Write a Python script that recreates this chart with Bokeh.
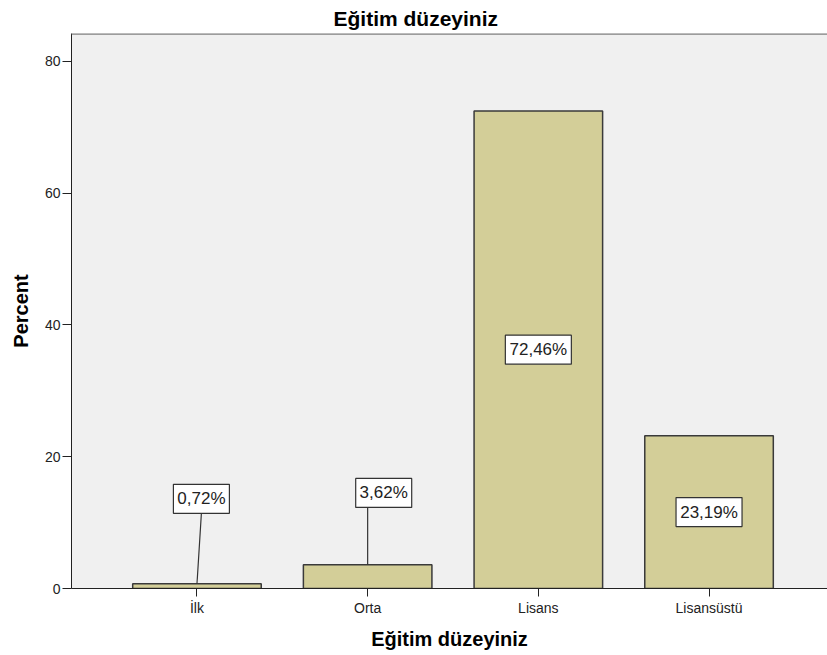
from bokeh.plotting import figure
from bokeh.models import Range1d, FixedTicker, ColumnDataSource, Span
from bokeh.core.properties import value
from bokeh.embed import file_html
from bokeh.resources import INLINE

# ---- data ----
categories = ["İlk", "Orta", "Lisans", "Lisansüstü"]
percents = [0.72, 3.62, 72.46, 23.19]
pct_labels = ["0,72%", "3,62%", "72,46%", "23,19%"]
y_ticks = [0, 20, 40, 60, 80]

title_text = "Eğitim düzeyiniz"
x_title = "Eğitim düzeyiniz"
y_title = "Percent"

# ---- layout constants ----
FONT = "Liberation Sans"
BAR_W = 0.753
Y_MAX = 84.2
xs = list(range(len(categories)))
# label placement: small bars get a callout above, big bars centred inside
callout = {0: (0.026, 13.6), 1: (1.094, 14.5)}
lab_x, lab_y, box_w = [], [], []
seg_x0, seg_y0, seg_x1, seg_y1 = [], [], [], []
BOX_HALF_H = 2.2
for i, v in enumerate(percents):
    if i in callout:
        cx, cy = callout[i]
        lab_x.append(cx)
        lab_y.append(cy)
        seg_x0.append(xs[i] if i == 1 else cx)
        seg_y0.append(cy - BOX_HALF_H)
        seg_x1.append(xs[i])
        seg_y1.append(v)
    else:
        lab_x.append(xs[i])
        lab_y.append(v / 2)
    box_w.append(10 * len(pct_labels[i]) + 6)

p = figure(width=827, height=655,
           x_range=Range1d(-0.735, 3.694), y_range=Range1d(0, Y_MAX),
           output_backend="svg", toolbar_location=None,
           min_border_left=71, min_border_right=0,
           min_border_top=33, min_border_bottom=67)

p.title.text = title_text
p.title.text_font = FONT
p.title.text_font_size = "21px"
p.title.text_font_style = "bold"
p.title.text_color = "#000000"
p.title.align = "left"
p.title.offset = 262
p.title.standoff = 7

p.background_fill_color = "#F0F0F0"
p.border_fill_color = "#FFFFFF"
p.outline_line_color = None
p.xgrid.visible = False
p.ygrid.visible = False

# top frame border (the right side of the frame is cut off in the original)
p.add_layout(Span(location=Y_MAX, dimension="width",
                  line_color="#808080", line_width=2.5))

src = ColumnDataSource(dict(x=xs, top=percents))
p.vbar(x="x", top="top", bottom=0, width=BAR_W, source=src,
       fill_color="#D3CE98", line_color="#3A3A3A", line_width=1.5)

p.segment(x0=seg_x0, y0=seg_y0, x1=seg_x1, y1=seg_y1,
          line_color="#333333", line_width=1.2)

p.rect(x=lab_x, y=lab_y, width=box_w, height=29,
       width_units="screen", height_units="screen",
       fill_color="#FFFFFF", line_color="#333333", line_width=1.2)
p.text(x=lab_x, y=lab_y, text=pct_labels,
       text_align="center", text_baseline="middle",
       text_font=value(FONT), text_font_size="17px", text_color="#222222")

# axes
xa = p.xaxis[0]
xa.ticker = FixedTicker(ticks=xs)
xa.major_label_overrides = {i: c for i, c in enumerate(categories)}
xa.minor_tick_line_color = None
xa.major_tick_out = 8
xa.major_tick_in = 0
xa.major_label_standoff = 3
xa.axis_line_color = "#222222"
xa.major_tick_line_color = "#222222"
xa.major_label_text_font = FONT
xa.major_label_text_font_size = "14px"
xa.major_label_text_color = "#222222"
xa.axis_label = x_title
xa.axis_label_text_font = FONT
xa.axis_label_text_font_size = "20px"
xa.axis_label_text_font_style = "bold"
xa.axis_label_text_color = "#000000"
xa.axis_label_standoff = 9

ya = p.yaxis[0]
ya.ticker = FixedTicker(ticks=y_ticks)
ya.minor_tick_line_color = None
ya.major_tick_out = 9
ya.major_tick_in = 0
ya.major_label_standoff = 2
ya.axis_line_color = "#222222"
ya.major_tick_line_color = "#222222"
ya.major_label_text_font = FONT
ya.major_label_text_font_size = "14px"
ya.major_label_text_color = "#222222"
ya.axis_label = y_title
ya.axis_label_text_font = FONT
ya.axis_label_text_font_size = "20px"
ya.axis_label_text_font_style = "bold"
ya.axis_label_text_color = "#000000"
ya.axis_label_standoff = 10

open("out.html", "w").write(file_html(p, INLINE))
